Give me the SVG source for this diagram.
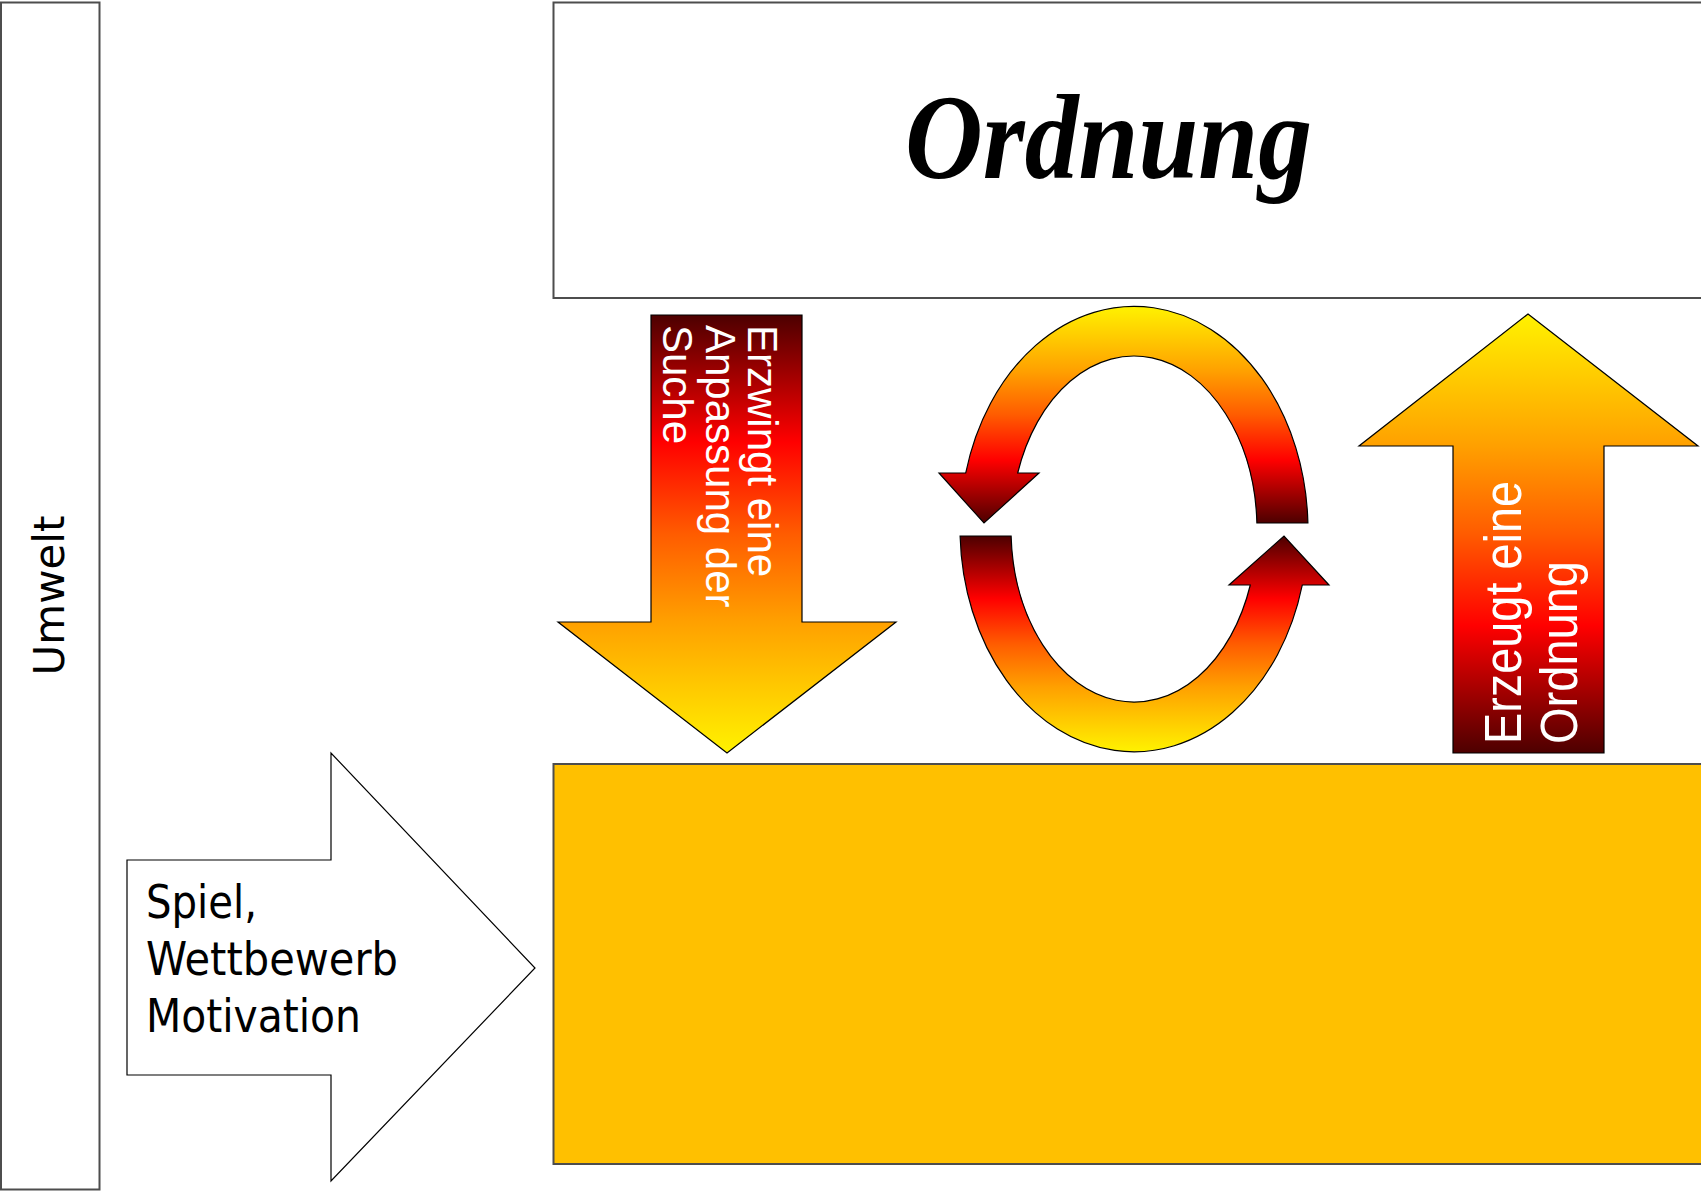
<svg xmlns="http://www.w3.org/2000/svg" width="1701" height="1191" viewBox="0 0 1701 1191">
  <style>
    .box { stroke: #4d4d4d; stroke-width: 2; }
    .arrow { stroke: #000; stroke-width: 1.2; stroke-linejoin: miter; }
    .lbl { font-family: "DejaVu Sans Condensed", "DejaVu Sans", "Liberation Sans", sans-serif; font-stretch: condensed; fill: #000; }
    .umw { font-family: "DejaVu Sans", "Liberation Sans", sans-serif; fill: #000; }
    .wlbl { font-family: "Liberation Sans", Arial, sans-serif; fill: #fff; }
    .title { font-family: "Liberation Serif", "Times New Roman", serif; font-style: italic; font-weight: bold; fill: #000; }
  </style>
  <defs>
    <linearGradient id="fireDown" x1="0" y1="0" x2="0" y2="1">
      <stop offset="0" stop-color="#4d0000"/>
      <stop offset="0.29" stop-color="#ff0000"/>
      <stop offset="0.5" stop-color="#ff5c00"/>
      <stop offset="0.7" stop-color="#ffa000"/>
      <stop offset="1" stop-color="#fff200"/>
    </linearGradient>
    <linearGradient id="fireUp" x1="0" y1="1" x2="0" y2="0">
      <stop offset="0" stop-color="#4d0000"/>
      <stop offset="0.29" stop-color="#ff0000"/>
      <stop offset="0.5" stop-color="#ff5c00"/>
      <stop offset="0.7" stop-color="#ffa000"/>
      <stop offset="1" stop-color="#fff200"/>
    </linearGradient>
  </defs>
  <rect x="0" y="0" width="1701" height="1191" fill="#fff"/>

  <g id="umwelt">
    <rect class="box" x="1" y="2.5" width="98.5" height="1187" fill="#fff"/>
    <text class="umw" font-size="42" text-anchor="middle" transform="translate(63.5,595.5) rotate(-90)">Umwelt</text>
  </g>

  <g id="ordnung">
    <rect class="box" x="553.5" y="2.5" width="1160" height="295.5" fill="#fff"/>
    <text class="title" x="905" y="178" font-size="121" textLength="407" lengthAdjust="spacingAndGlyphs">Ordnung</text>
  </g>

  <g id="basis">
    <rect class="box" x="553.5" y="764" width="1160" height="400" fill="#ffc000"/>
  </g>

  <g id="connectors">
    <g id="pfeil-spiel">
      <polygon class="arrow" fill="#fff" points="127,860 331,860 331,753 535,968 331,1181 331,1075 127,1075"/>
      <text class="lbl" font-size="46">
        <tspan x="146" y="918" textLength="111" lengthAdjust="spacingAndGlyphs">Spiel,</tspan>
        <tspan x="146" y="975" textLength="252" lengthAdjust="spacingAndGlyphs">Wettbewerb</tspan>
        <tspan x="146" y="1032" textLength="215" lengthAdjust="spacingAndGlyphs">Motivation</tspan>
      </text>
    </g>

    <g id="pfeil-erzwingt">
      <polygon class="arrow" fill="url(#fireDown)" points="651,315 802,315 802,622 896,622 727,753 558,622 651,622"/>
      <text class="wlbl" font-size="42" transform="translate(748.3,325) rotate(90)">
        <tspan x="0" y="0">Erzwingt eine</tspan>
        <tspan x="0" y="42.8">Anpassung der</tspan>
        <tspan x="0" y="85.6">Suche</tspan>
      </text>
    </g>

    <g id="kreislauf">
      <path class="arrow" fill="url(#fireUp)" d="M1307.9,523 A174,223.5 0 0 0 965.7,473 L939,473 L984,523 L1039,473 L1017.7,473 A123,173.5 0 0 1 1256.9,523 Z"/>
      <path class="arrow" fill="url(#fireDown)" d="M960.1,536 A174,223.5 0 0 0 1302.3,585 L1329,585 L1284,536 L1229,585 L1250.3,585 A123,173.5 0 0 1 1011.1,536 Z"/>
    </g>

    <g id="pfeil-erzeugt">
      <polygon class="arrow" fill="url(#fireUp)" points="1528,314 1698,446 1604,446 1604,753 1453,753 1453,446 1359,446"/>
      <text class="wlbl" font-size="51" transform="translate(1520.5,744) rotate(-90)">
        <tspan x="0" y="0" textLength="263" lengthAdjust="spacingAndGlyphs">Erzeugt eine</tspan>
        <tspan x="0" y="56.5" textLength="183" lengthAdjust="spacingAndGlyphs">Ordnung</tspan>
      </text>
    </g>
  </g>
</svg>
